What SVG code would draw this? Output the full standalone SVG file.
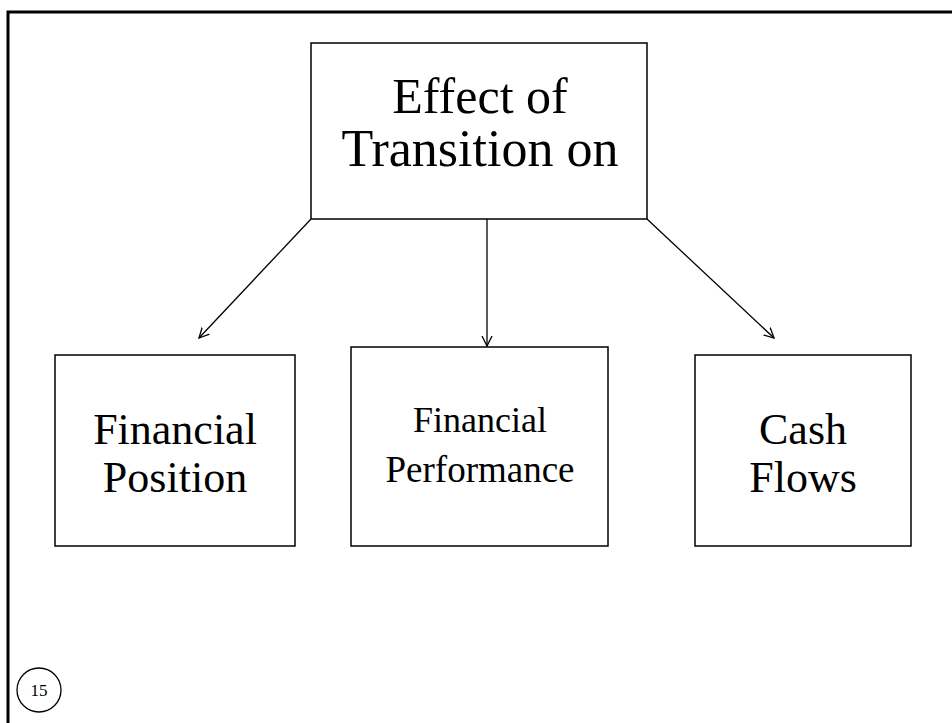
<svg xmlns="http://www.w3.org/2000/svg" width="952" height="723" viewBox="0 0 952 723">
<defs>
<style>
.box{fill:#fff;stroke:#000;stroke-width:1.5}
.t{font-family:"Liberation Serif","Times New Roman",serif;fill:#000;text-anchor:middle}
.c{stroke:#000;stroke-width:1.3;fill:none}
</style>
<marker id="ah" markerWidth="12" markerHeight="12" refX="10" refY="6" orient="auto" markerUnits="userSpaceOnUse">
<polyline points="0,1 10,6 0,11" fill="none" stroke="#000" stroke-width="1.3"/>
</marker>
</defs>
<rect width="952" height="723" fill="#fff"/>
<rect x="8" y="12" width="960" height="730" fill="none" stroke="#000" stroke-width="3"/>
<g id="top">
<rect class="box" x="311" y="43" width="336" height="176"/>
<text class="t" x="480" y="113" font-size="50">Effect of</text>
<text class="t" x="480" y="166" font-size="52">Transition on</text>
</g>
<g id="position">
<rect class="box" x="55" y="355" width="240" height="191"/>
<text class="t" x="175" y="444" font-size="44">Financial</text>
<text class="t" x="175" y="492" font-size="44">Position</text>
</g>
<g id="performance">
<rect class="box" x="351" y="347" width="257" height="199"/>
<text class="t" x="480" y="432" font-size="36">Financial</text>
<text class="t" x="480" y="482" font-size="37">Performance</text>
</g>
<g id="cash">
<rect class="box" x="695" y="355" width="216" height="191"/>
<text class="t" x="803" y="444" font-size="44">Cash</text>
<text class="t" x="803" y="492" font-size="44">Flows</text>
</g>
<g id="connectors">
<line class="c" x1="311" y1="219" x2="199" y2="338" marker-end="url(#ah)"/>
<line class="c" x1="487" y1="219" x2="487" y2="346" marker-end="url(#ah)"/>
<line class="c" x1="647" y1="219" x2="774" y2="338" marker-end="url(#ah)"/>
</g>
<g id="page">
<circle cx="39" cy="690" r="22" fill="#fff" stroke="#000" stroke-width="1.3"/>
<text class="t" x="39" y="696" font-size="17">15</text>
</g>
</svg>
